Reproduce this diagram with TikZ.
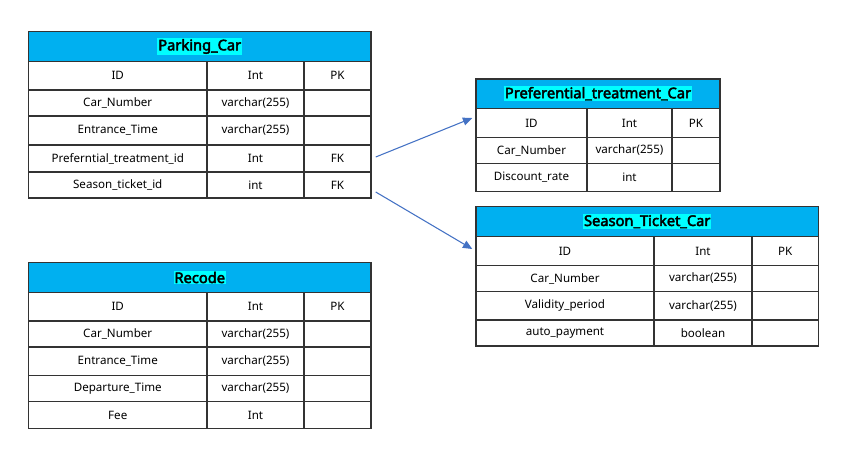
\documentclass[tikz,border=0pt]{standalone}
\usepackage{fontspec}
\setmainfont{Noto Sans}[AutoFakeBold=3]
\usetikzlibrary{arrows.meta}
\definecolor{hdrblue}{RGB}{0,176,240}
\definecolor{hilite}{RGB}{0,255,255}
\definecolor{gridc}{RGB}{51,51,51}
\definecolor{arrc}{RGB}{68,114,196}
\tikzset{
  cell/.style={draw=gridc, line width=1.1pt, inner sep=0pt, fill=white,
    font=\fontsize{8.7}{10}\selectfont},
  hdrcell/.style={cell, fill=hdrblue},
  title/.style={fill=hilite, inner sep=0.6pt, font=\fontsize{11}{13}\selectfont\bfseries},
  arr/.style={draw=arrc, line width=0.8pt, -{Triangle[length=7pt,width=6pt]}}
}
\newcommand\cellnode[7]{%
  \pgfmathsetmacro\cw{(#4-#2)*0.75}%
  \pgfmathsetmacro\ch{(#5-#3)*0.75}%
  \node[#7, minimum width=\cw pt, minimum height=\ch pt] (#1) at ({(#2+#4)/2},{(#3+#5)/2}) {#6};}
\newcommand\erow[6]{%
  \cellnode{#1a}{\xa}{#2}{\xb}{#3}{#4}{cell}%
  \cellnode{#1b}{\xb}{#2}{\xc}{#3}{#5}{cell}%
  \cellnode{#1c}{\xc}{#2}{\xd}{#3}{#6}{cell}}
\newcommand\hdr[4]{%
  \cellnode{#1}{\xa}{#2}{\xd}{#3}{}{hdrcell}%
  \node[title] (#1t) at (#1.center) {#4};}
\begin{document}
\begin{tikzpicture}[x=0.75pt,y=-0.75pt]
\useasboundingbox (0,0) rectangle (844,450);
% Parking_Car
\def\xa{28.5}\def\xb{207}\def\xc{304}\def\xd{371}
\hdr{pc}{31.5}{61.5}{Parking\_Car}
\erow{pc1}{61.5}{90}{ID}{Int}{PK}
\erow{pc2}{90}{116}{Car\_Number}{varchar(255)}{}
\erow{pc3}{116}{145}{Entrance\_Time}{varchar(255)}{}
\erow{pc4}{145}{172}{Preferntial\_treatment\_id}{Int}{FK}
\erow{pc5}{172}{198}{Season\_ticket\_id}{int}{FK}
% Recode
\hdr{rc}{262.5}{292.5}{Recode}
\erow{rc1}{292.5}{321}{ID}{Int}{PK}
\erow{rc2}{321}{347}{Car\_Number}{varchar(255)}{}
\erow{rc3}{347}{375.5}{Entrance\_Time}{varchar(255)}{}
\erow{rc4}{375.5}{401.5}{Departure\_Time}{varchar(255)}{}
\erow{rc5}{401.5}{428.5}{Fee}{Int}{}
% Preferential_treatment_Car
\def\xa{476}\def\xb{587}\def\xc{672}\def\xd{720}
\hdr{pt}{79}{108.5}{Preferential\_treatment\_Car}
\erow{pt1}{108.5}{137.5}{ID}{Int}{PK}
\erow{pt2}{137.5}{163.5}{Car\_Number}{varchar(255)}{}
\erow{pt3}{163.5}{191.5}{Discount\_rate}{int}{}
% Season_Ticket_Car
\def\xa{476}\def\xb{654}\def\xc{752}\def\xd{818.5}
\hdr{st}{206.5}{236.5}{Season\_Ticket\_Car}
\erow{st1}{236.5}{265.5}{ID}{Int}{PK}
\erow{st2}{265.5}{291.5}{Car\_Number}{varchar(255)}{}
\erow{st3}{291.5}{320}{Validity\_period}{varchar(255)}{}
\erow{st4}{320}{346}{auto\_payment}{boolean}{}
% connectors
\draw[arr] ([shift={(4,-1.5)}]pc4c.east) -- ([shift={(-3,-5)}]pt1a.west);
\draw[arr] ([shift={(4,7)}]pc5c.east) -- ([shift={(-3,-2)}]st1a.west);
\end{tikzpicture}
\end{document}
